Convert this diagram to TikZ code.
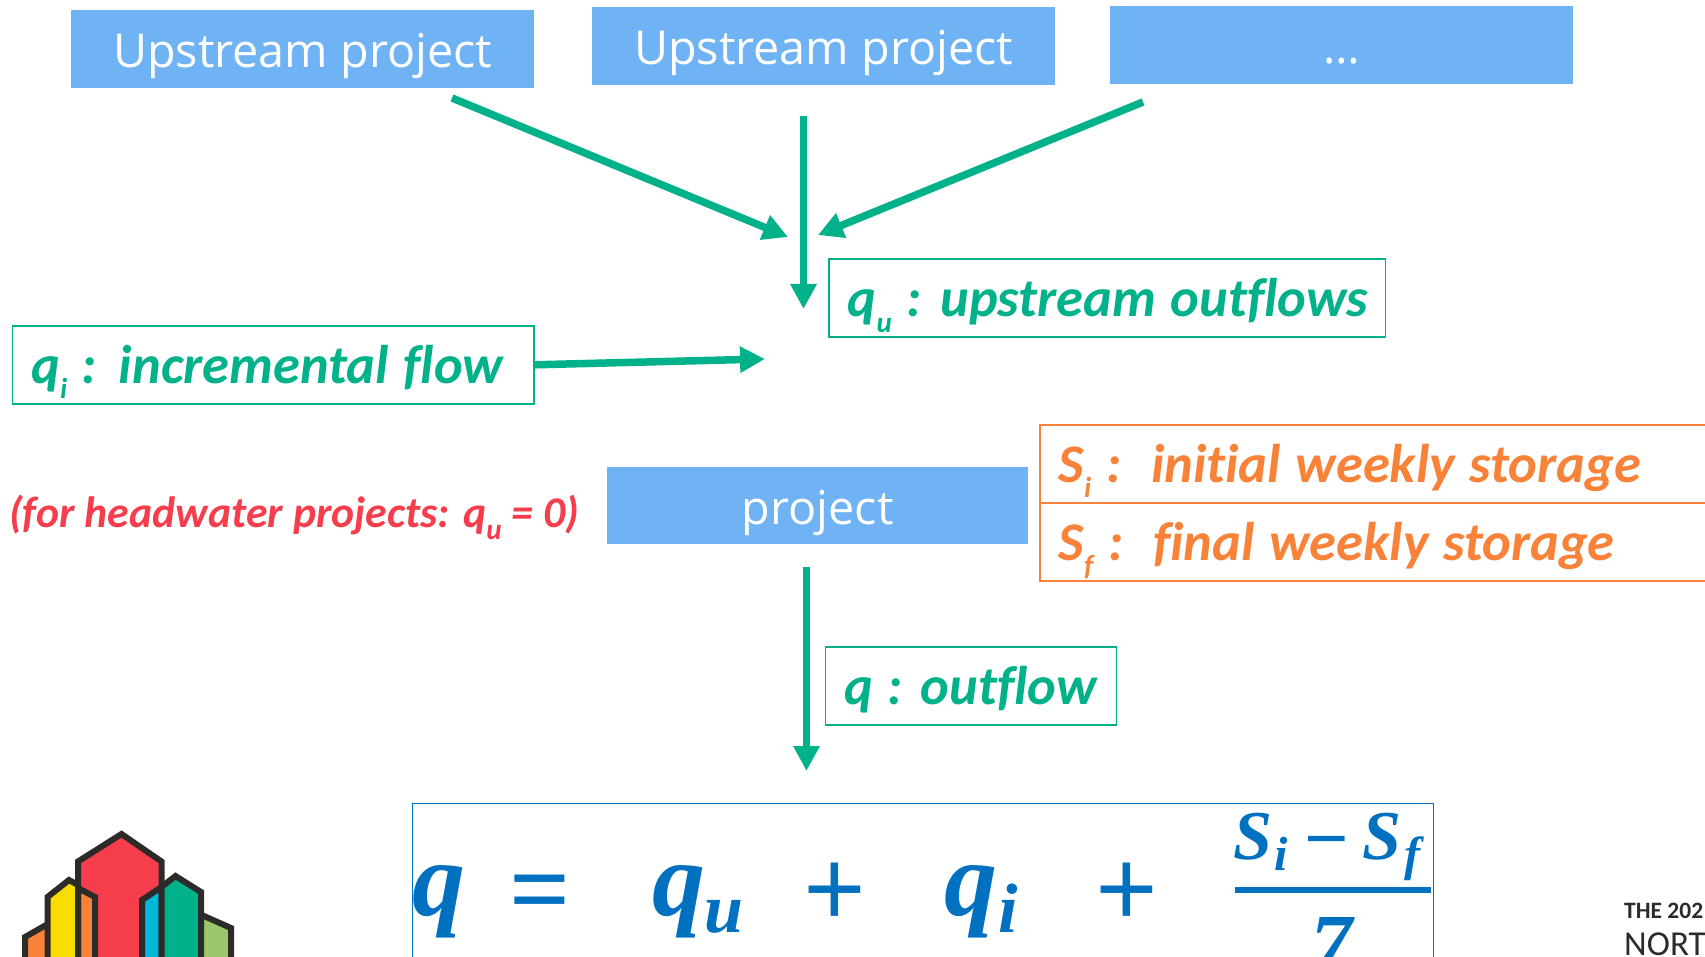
\documentclass[tikz,border=0pt]{standalone}
\usepackage{fontspec}
\setmainfont[Ligatures=NoCommon]{Carlito}
\newfontfamily\upfont{Open Sans}
\newfontfamily\mathfont{Liberation Serif}
\usetikzlibrary{arrows.meta}
\definecolor{boxblue}{HTML}{6FB3F4}
\definecolor{flowgreen}{HTML}{00B189}
\definecolor{storeorange}{HTML}{F98239}
\definecolor{notered}{HTML}{F53D4C}
\definecolor{eqblue}{HTML}{0070C0}
\definecolor{logodark}{HTML}{2D2A2A}
\definecolor{logoyellow}{HTML}{F8DC00}
\definecolor{logocyan}{HTML}{00B9D6}
\definecolor{logolime}{HTML}{9CC66B}
\newcommand{\lowtxt}[1]{\raisebox{-.28em}{\fontsize{29}{32}\selectfont #1}}
\newcommand{\tightwords}{\frenchspacing\spaceskip=.27em\relax}
\tikzset{
  x=1pt,y=-1pt,
  fillbox/.style={fill=boxblue,text=white,anchor=north west,inner sep=0pt,minimum width=463pt,minimum height=78pt,text height=37pt,text depth=0pt,font=\upfont\fontsize{46.7}{50}\selectfont},
  labelbox/.style={draw=#1,line width=1.6pt,text=#1,anchor=north west,inner ysep=0pt,inner xsep=10pt,minimum height=78pt,text height=37pt,text depth=0pt,align=left,font=\bfseries\itshape\fontsize{54.5}{56}\selectfont},
  flow/.style={draw=flowgreen,line width=7.5pt,-{Triangle[width=25pt,length=25pt]}},
  eqtext/.style={text=eqblue,inner sep=0pt,font=\mathfont\bfseries\itshape\fontsize{#1}{#1}\selectfont},
  eqsign/.style={text=eqblue,inner sep=0pt,font=\upfont\fontsize{#1}{#1}\selectfont},
  logoline/.style={draw=logodark,line width=6pt,line join=miter},
}
\begin{document}
\begin{tikzpicture}
\useasboundingbox (0,0) rectangle (1705,957);
\clip (0,0) rectangle (1705,957);
\fill[white] (0,0) rectangle (1705,957);
% coloured boxes
\node[fillbox] (up1) at (71,10) {Upstream project};
\node[fillbox] (up2) at (592,7) {Upstream project};
\node[fillbox] (up3) at (1110,6) {\dots};
\node[fillbox,minimum width=421pt,minimum height=77pt] (proj) at (607,467) {project};
% labelled boxes
\node[labelbox=flowgreen,minimum width=556.5pt,text width=536.5pt] (qu) at (828,258.5) {\tightwords\hspace{9pt}q\lowtxt{u} :\hspace{19pt}upstream outflows};
\node[labelbox=flowgreen,minimum width=521.5pt,text width=501.5pt] (qi) at (11.5,325) {\tightwords\hspace{9pt}q\lowtxt{i} :\hspace{22pt}incremental flow};
\node[labelbox=flowgreen,minimum width=291pt,text width=271pt] (qo) at (824.5,646) {\tightwords\hspace{9pt}q :\hspace{18pt}outflow};
\node[labelbox=storeorange,minimum width=690pt,text width=670pt] (si) at (1039,424) {\tightwords\hspace{9pt}S\lowtxt{i} :\hspace{30pt}initial weekly storage};
\node[labelbox=storeorange,minimum width=690pt,text width=670pt] (sf) at (1039,502) {\tightwords\hspace{9pt}S\lowtxt{f} :\hspace{30pt}final weekly storage};
\node[text=notered,anchor=base west,inner sep=0pt,font=\bfseries\itshape\fontsize{43.8}{46}\selectfont] (note) at (9,527) {(for headwater projects: q\lowtxt{u} = 0)};
% equation
\node[draw=eqblue,line width=1.6pt,anchor=north west,minimum width=1021pt,minimum height=190pt,inner sep=0pt] (eq) at (411.5,802.5) {};
\node[eqtext=106,anchor=base west] (q) at (412,915) {q};
\node[eqsign=110,anchor=base] (eq1) at (540,928) {=};
\node[eqtext=106,anchor=base west] (qq) at (652,915) {q};
\node[eqtext=70,anchor=base west] (uu) at (704,932) {u};
\node[eqsign=110,anchor=base] (p1) at (835,928) {+};
\node[eqtext=106,anchor=base west] (qq2) at (944,915) {q};
\node[eqtext=70,anchor=base west] (ii) at (998,932) {i};
\node[eqsign=110,anchor=base] (p2) at (1127,928) {+};
\node[eqtext=70,anchor=base west] (s1) at (1233,859) {S};
\node[eqtext=48,anchor=base west] (s1s) at (1274,870) {i};
\node[eqsign=78,anchor=base] (mn) at (1327,866) {\char"2212};
\node[eqtext=70,anchor=base west] (s2) at (1362,859) {S};
\node[eqtext=48,anchor=base west] (s2s) at (1404,870) {f};
\node[eqtext=84,anchor=base] (seven) at (1331,972) {7};
\coordinate (barL) at (1235,890);
\coordinate (barR) at (1431,890);
\draw[eqblue,line width=6pt] (barL) -- (barR);
% arrows
\coordinate (a1s) at (452,98);
\coordinate (a1e) at (788,237);
\coordinate (a2s) at (803.5,116);
\coordinate (a2e) at (803.5,309);
\coordinate (a3s) at (1143,102);
\coordinate (a3e) at (818,235);
\coordinate (a4e) at (765,359);
\coordinate (a5s) at (806.5,567);
\coordinate (a5e) at (806.5,771);
\draw[flow] (a1s) -- (a1e);
\draw[flow] (a2s) -- (a2e);
\draw[flow] (a3s) -- (a3e);
\draw[flow] (qi.east) -- (a4e);
\draw[flow] (a5s) -- (a5e);
% logo
\filldraw[logoline,fill=storeorange] (25,970) -- (25,937) -- (60,917) -- (60,970);
\filldraw[logoline,fill=logolime] (195,912) -- (231,928) -- (231,970) -- (195,970);
\filldraw[logoline,fill=notered] (78,970) -- (78,861.5) -- (121.5,834) -- (161.5,861.5) -- (161.5,970);
\filldraw[logoline,fill=storeorange] (78,888) -- (95,897) -- (95,970) -- (78,970) -- cycle;
\filldraw[logoline,fill=logoyellow] (47.5,970) -- (47.5,897) -- (69,880) -- (78,885) -- (78,970);
\filldraw[logoline,fill=logocyan] (142,970) -- (142,900) -- (161.5,887) -- (161.5,970);
\filldraw[logoline,fill=flowgreen] (161.5,970) -- (161.5,887) -- (175.5,876) -- (201,892) -- (201,970);
% footer
\node[anchor=base west,inner sep=0pt,text=logodark,font=\bfseries\fontsize{23.5}{26}\selectfont] (foot1) at (1624,918) {THE 202};
\node[anchor=base west,inner sep=0pt,text=logodark,font=\fontsize{35}{38}\selectfont] (foot2) at (1624,955) {NORT};
\end{tikzpicture}
\end{document}
